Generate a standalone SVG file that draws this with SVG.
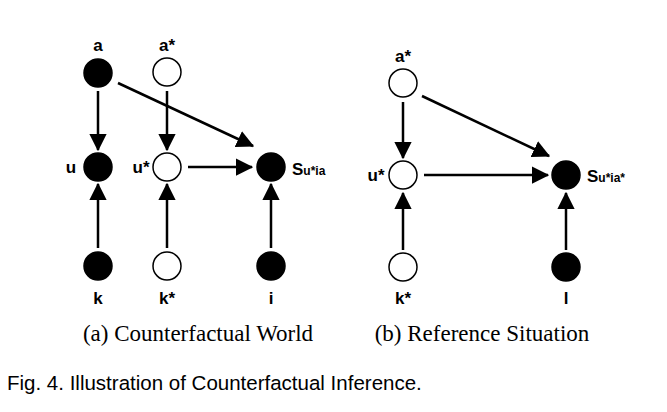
<svg xmlns="http://www.w3.org/2000/svg" width="667" height="412" viewBox="0 0 667 412">
<style>
.f{fill:#000;stroke:#000;stroke-width:1.5}
.o{fill:#fff;stroke:#000;stroke-width:1.5}
.l{font-family:"Liberation Sans",Arial,sans-serif;font-weight:bold;font-size:17px;fill:#000}
.c{font-family:"Liberation Serif","Times New Roman",serif;font-size:23px;fill:#000}
#edges line{stroke:#000;stroke-width:2.5;marker-end:url(#ah)}
</style>
<defs><marker id="ah" markerWidth="7" markerHeight="7" refX="6.5" refY="3.5" orient="auto" markerUnits="strokeWidth"><path d="M0,0 L7,3.5 L0,7 z" fill="#000"/></marker></defs>
<rect width="667" height="412" fill="#fff"/>
<g id="edges">
<line x1="98" y1="91" x2="98" y2="150"/>
<line x1="167" y1="91" x2="167" y2="150"/>
<line x1="118" y1="83" x2="253" y2="146"/>
<line x1="188" y1="167" x2="252" y2="167"/>
<line x1="98" y1="248" x2="98" y2="184"/>
<line x1="167" y1="248" x2="167" y2="184"/>
<line x1="271" y1="248" x2="271" y2="184"/>
<line x1="403" y1="102" x2="403" y2="158"/>
<line x1="422" y1="96" x2="549" y2="156"/>
<line x1="424" y1="175" x2="548" y2="175"/>
<line x1="403" y1="250" x2="403" y2="193"/>
<line x1="566" y1="250" x2="566" y2="193"/>
</g>
<g id="a"><circle class="f" cx="98" cy="73" r="14"/><text class="l" x="98" y="51" text-anchor="middle">a</text></g>
<g id="as"><circle class="o" cx="167" cy="72" r="14"/><text class="l" x="167" y="51" text-anchor="middle">a*</text></g>
<g id="u"><circle class="f" cx="98" cy="167" r="14"/><text class="l" x="71" y="173" text-anchor="middle">u</text></g>
<g id="us"><circle class="o" cx="167" cy="167" r="14"/><text class="l" x="141" y="173" text-anchor="middle">u*</text></g>
<g id="s"><circle class="f" cx="271" cy="167" r="14"/><text class="l" x="292" y="175">S<tspan font-size="12">u*ia</tspan></text></g>
<g id="k"><circle class="f" cx="98" cy="266" r="14"/><text class="l" x="98" y="304" text-anchor="middle">k</text></g>
<g id="ks"><circle class="o" cx="167" cy="266" r="14"/><text class="l" x="167" y="304" text-anchor="middle">k*</text></g>
<g id="i"><circle class="f" cx="271" cy="266" r="14"/><text class="l" x="271" y="304" text-anchor="middle">i</text></g>
<g id="as2"><circle class="o" cx="403" cy="83" r="14"/><text class="l" x="403" y="62" text-anchor="middle">a*</text></g>
<g id="us2"><circle class="o" cx="403" cy="175" r="14"/><text class="l" x="376" y="181" text-anchor="middle">u*</text></g>
<g id="s2"><circle class="f" cx="566" cy="175" r="14"/><text class="l" x="587" y="182">S<tspan font-size="12">u*ia*</tspan></text></g>
<g id="ks2"><circle class="o" cx="403" cy="267" r="14"/><text class="l" x="403" y="304" text-anchor="middle">k*</text></g>
<g id="l"><circle class="f" cx="566" cy="267" r="14"/><text class="l" x="566" y="304" text-anchor="middle">l</text></g>
<text class="c" x="198" y="341" text-anchor="middle">(a) Counterfactual World</text>
<text class="c" x="482" y="341" text-anchor="middle">(b) Reference Situation</text>
<text x="7" y="390" font-family="Liberation Sans,Arial,sans-serif" font-size="20.5" fill="#000">Fig. 4. Illustration of Counterfactual Inference.</text>
</svg>
